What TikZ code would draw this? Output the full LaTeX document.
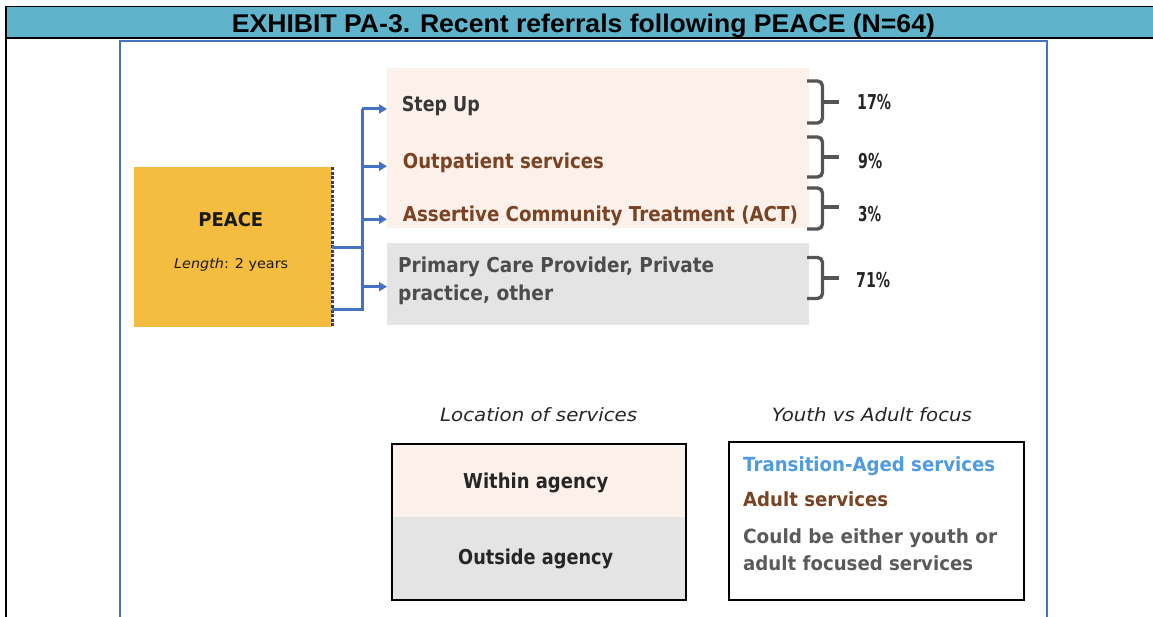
\documentclass[tikz,border=0pt]{standalone}
\usepackage{fontspec}
\setmainfont{DejaVu Sans}
\newfontfamily\titlefont{Liberation Sans}
\usetikzlibrary{arrows.meta}
\newcommand{\fw}[2]{\resizebox{#1}{\height}{#2}}
\definecolor{bandc}{RGB}{95,179,203}
\definecolor{peachc}{RGB}{251,241,234}
\definecolor{greyc}{RGB}{229,228,228}
\definecolor{goldc}{RGB}{244,189,64}
\definecolor{navyc}{RGB}{46,59,126}
\definecolor{connc}{RGB}{68,114,196}
\definecolor{bracec}{RGB}{85,85,85}
\definecolor{darktxt}{RGB}{55,55,55}
\definecolor{browntxt}{RGB}{122,68,36}
\definecolor{bluetxt}{RGB}{79,155,223}
\definecolor{greytxt}{RGB}{90,90,90}
\tikzset{
  txt/.style={inner sep=0pt, anchor=base west},
  bigb/.style={txt, font=\fontsize{20.5}{24}\selectfont\bfseries},
  boxfill/.style={inner sep=0pt, anchor=north west, draw=none},
  conn/.style={draw=connc, line width=3pt},
  arr/.style={conn, -{Triangle[length=8pt,width=9pt]}},
  bracestyle/.style={draw=bracec, line width=3.4pt, rounded corners=5pt},
}
\newcommand{\mybrace}[3]{%
  \draw[bracestyle] (807,#1) -- (822.5,#1) -- (822.5,#2) -- (807,#2);
  \draw[bracestyle] (822.5,#3) -- (839,#3);}
\begin{document}
\begin{tikzpicture}[x=1pt,y=-1pt]
\useasboundingbox (0,0) rectangle (1153,617);
% header band
\fill[bandc] (6,6.5) rectangle (1153,38.5);
\draw[black, line width=1.5pt] (6,6.5) -- (1153,6.5);
\draw[black, line width=2pt] (6,38.5) -- (1153,38.5);
\draw[black, line width=2pt] (6,6) -- (6,617);
\node[txt, font=\titlefont\fontsize{25.6}{28}\selectfont\bfseries] (title) at (231.7,32.3) {\fw{703pt}{EXHIBIT PA-3. Recent referrals following PEACE (N=64)}};
% inner blue frame
\draw[connc, line width=1.8pt] (120.3,617) -- (120.3,40.7) -- (1046.7,40.7) -- (1046.7,617);
% PEACE box
\node[boxfill, fill=goldc, minimum width=198pt, minimum height=160pt] (peace) at (134,167) {};
\node[inner sep=0pt, anchor=base, font=\fontsize{19}{22}\selectfont\bfseries, text=black!90] (peacet) at (230.8,226.7) {\fw{65pt}{PEACE}};
\node[txt, font=\fontsize{13.5}{16}\selectfont, text=black!90] (len) at (174,269) {\fw{114pt}{\textit{Length}: 2 years}};
\draw[navyc, line width=3.4pt, dash pattern=on 3pt off 1.6pt] (peace.north east) -- (peace.south east);
% service boxes
\node[boxfill, fill=peachc, minimum width=422pt, minimum height=160pt] (within) at (387,68) {};
\node[boxfill, fill=greyc, minimum width=422pt, minimum height=82pt] (outside) at (387,243) {};
\node[bigb, text=darktxt] (stepup) at (401.7,111.7) {\fw{78pt}{Step Up}};
\node[bigb, text=browntxt] (outp) at (402.7,169) {\fw{201pt}{Outpatient services}};
\node[bigb, text=browntxt] (act) at (402.7,222) {\fw{395pt}{Assertive Community Treatment (ACT)}};
\node[bigb, text=greytxt!85!black] (prim1) at (398,273) {\fw{316pt}{Primary Care Provider, Private}};
\node[bigb, text=greytxt!85!black] (prim2) at (398,300.7) {\fw{155pt}{practice, other}};
% connectors
\coordinate (trunk) at (362,0);
\coordinate (trB) at (362,310);
\draw[conn] (peace.east) -- (peace.east -| trunk);
\draw[conn] (peace.east |- trB) -- (trB) -- (trunk |- stepup.mid);
\draw[arr] (trunk |- stepup.mid) -- (within.west |- stepup.mid);
\draw[arr] (trunk |- outp.mid) -- (within.west |- outp.mid);
\draw[arr] (trunk |- act.mid) -- (within.west |- act.mid);
\draw[arr] ([yshift=-2.5pt]trunk |- outside.west) -- ([yshift=-2.5pt]outside.west);
% braces and percentages
\mybrace{81}{123}{102}
\mybrace{137}{177}{157}
\mybrace{188}{229}{207}
\mybrace{257.5}{298.5}{278}
\node[bigb, text=black!85] (p1) at (857,110) {\fw{34pt}{17\%}};
\node[bigb, text=black!85] (p2) at (858,169) {\fw{24pt}{9\%}};
\node[bigb, text=black!85] (p3) at (858,222) {\fw{23pt}{3\%}};
\node[bigb, text=black!85] (p4) at (856,288) {\fw{34pt}{71\%}};
% legend: location
\node[txt, font=\fontsize{18.3}{22}\selectfont\itshape, text=black!85] (loclab) at (440,421.7) {\fw{197pt}{Location of services}};
\fill[peachc] (391,443) rectangle (685,517);
\fill[greyc] (391,517) rectangle (685,599);
\node[boxfill, draw=black, line width=2pt, minimum width=294pt, minimum height=156pt, anchor=north west] (locbox) at (391,443) {};
\node[bigb, text=black!85] (win) at (463,488) {\fw{145pt}{Within agency}};
\node[bigb, text=black!85] (outs) at (458,564) {\fw{155pt}{Outside agency}};
% legend: focus
\node[txt, font=\fontsize{18.3}{22}\selectfont\itshape, text=black!85] (foclab) at (771.7,421.7) {\fw{200pt}{Youth vs Adult focus}};
\node[boxfill, draw=black, line width=2pt, minimum width=295pt, minimum height=158pt, anchor=north west] (focbox) at (728,441) {};
\node[txt, font=\fontsize{19.5}{23}\selectfont\bfseries, text=bluetxt] (ta) at (743,471.7) {\fw{252pt}{Transition-Aged services}};
\node[txt, font=\fontsize{19.5}{23}\selectfont\bfseries, text=browntxt] (ad) at (743,506.7) {\fw{145pt}{Adult services}};
\node[txt, font=\fontsize{19.5}{23}\selectfont\bfseries, text=greytxt] (cb1) at (743,543) {\fw{254pt}{Could be either youth or}};
\node[txt, font=\fontsize{19.5}{23}\selectfont\bfseries, text=greytxt] (cb2) at (743,570) {\fw{230pt}{adult focused services}};
\end{tikzpicture}
\end{document}
